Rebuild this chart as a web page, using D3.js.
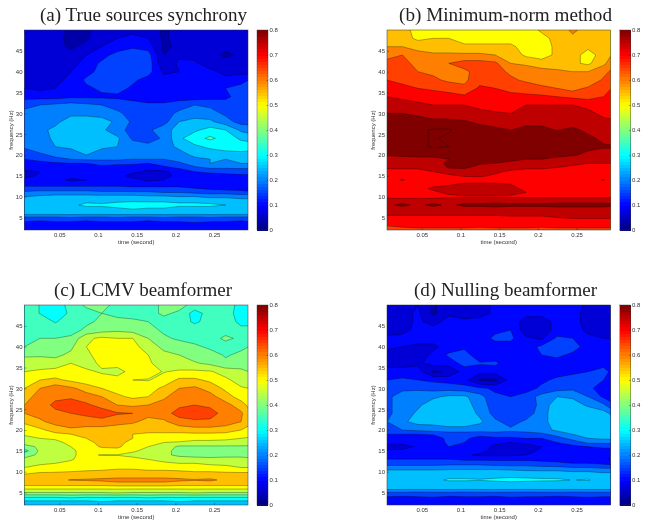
<!DOCTYPE html>
<html><head><meta charset="utf-8">
<script src="https://cdn.jsdelivr.net/npm/d3@7"></script>
<style>html,body{margin:0;padding:0;background:#fff}svg{display:block;filter:blur(0.35px)}</style>
</head><body><svg id="c" width="649" height="529"></svg>
<script>
const times=[.005,.025,.045,.065,.085,.105,.125,.145,.165,.185,.205,.225,.245,.265,.285,.295];
const frequencies=[50,48,46,44,42,40,38,36,34,32,30,28,26,24,22,20,19,18,17,16,15,14,13,12,11,10,9,8,7,6,5,4,3,2];
const timeTicks=[.05,.1,.15,.2,.25];
const freqTicks=[5,10,15,20,25,30,35,40,45];
const barTicks=[0,.1,.2,.3,.4,.5,.6,.7,.8];
const levels=[0,5,10,15,20,25,30,35,40,45,50,55,60,65,70,75,80,85];
const lowBandShade=[.04,.085,.13,.19,.25];
const titles=["(a) True sources synchrony","(b) Minimum-norm method","(c) LCMV beamformer","(d) Nulling beamformer"];
// synchrony values in hundredths, one row per frequency (top to bottom), one column per time
const trueSources=[
11,8,7,4,4,8,9,9,8,4,7,8,8,7,6,6,
8,7,6,4,4,9,10,11,10,4,7,7,7,7,6,6,
7,7,7,4,7,10,12,14,13,4,6,7,6,6,6,6,
7,7,7,7,10,13,17,19,17,5,9,9,7,4,6,6,
7,7,7,8,12,16,18,19,18,6,11,10.5,8,7,7,7,
7,7,7,10,13,17,18,18,17,9,10,12,11,9,8,8,
9,8,9,11,16,17,17,16,13,12,12,13,12,11,14,15,
10,9,10,12,14,16,17,14,12,11,12,13,13,15,16,17,
13,13,13,14,14,14,14,13,12,12,12,12,13,14,17,17,
19,20,21,22,21,20,18,17,16,16,18,20,19,17,16,16,
21,23,24,24,24,23,21,18,16,18,21,22,22,19,16,16,
22,23,24,27,27,27,24,19,17,18,25,27,26,22,18,18,
22,24,26,28,28,26,22,18,19,23,27,29,32,30,24,23,
20,23,26,28,28,27,26,19,17,21,29,33,36,33,29,28,
21,23,25,26,27,26,25,23,22,23,26,29,31,33,33,33,
16,19,21,22,25,22,22,21,20,21,23,26,27,27,28,27,
15,17,19,20,21,21,21,20,20,20,22,24,25,25,26,26,
12,13,14,15,15,16,16,16,15,17,19,23,25,24,25,25,
12,12,12,13,14,14,13,12,12,14,16,19,21,21,21,21,
9,10,12,12,13,13,12,11,9,9,12,15,16,16,17,17,
8,11,12,12,13,13,12,8,7,8,12,13,13,14,14,14,
12,12,12,9,10,12,12,12,9,10,12,12,12,12,12,12,
13,13,13,13,13,13,13,13,13,13,13,13,12.5,12.5,12.5,12,
17,17,17,17,17,17,17,16,16,16,16,15,14,13,13,9,
21,22,22,22,22,21,21,21,21,20,20,19,18,18,17,17,
25,26,27,27,27,27,27,27,26,26,25,25,24,24,23,23,
28,28,28,29,29,29,29,29,29,29,29,29,28,28,27,27,
28,28,29,29,31,30.5,32,34,33,33,31,31,31,30,28,28,
28,28,28,28,28,29,29,30,29,29,28,28,28,28,28,28,
27,27,27,27,27,27,27,27,27,27,27,27,27,27,27,27,
19,19,19,20,19,19,20,19,19,20,19,19,20,19,19,19,
15,14,15,15,14,15,15,15,14,15,15,16,15,15,14,15,
12,11,12,12,11,12,12,11,12,12,12,11,12,12,11,12,
12,12,12,12,12,12,12,12,12,12,12,12,12,12,12,12];
const minimumNorm=[
57,56,54,53,53,53,53,53,53,52,56,57,61,58,57,57,
58,57,54,55,55,53,53,53,53,51,53,57,59,59,58,58,
60,60,58,57,57,56,56,56,56,53,53,56,57,56,58,58,
64,65,62,61,61,61,61,60,58,54,53,56,57,53,57,60,
66,66,64,63,65,67,67,66,60,59,57,57,56,54,59,62,
67,67,65,64,63,64,67,67,64,63,62,61,60,60,63,66,
70,69,67,66,64,64,68,68,66,64,63,63,62,60,66,68,
72,71,70,69,68,66,71,70,69,68,66,65,63,66,69,70,
75,74,73,73,72,71,72,72,71,71,71,70,69,68,70,71,
78,77,76,75,75,75,74,73,73,75,75,75,75,74,73,73,
80,80,79,78,78,77,76,75.5,75,77,77,77,77,76,74,73,
82,82,82,81,81,80.5,79,78,78,79,79,79,78,78,76,76,
83,83,84,85.5,85.5,83,82,81,80,81,81,79.8,81,79,78,77,
83,83,84,85.5,84,83,82,81,81,82,82,82,82,81,79,78,
83,83,84,85.5,85,83,82,81,81,82,82,82,82,81,80.5,80.5,
80.5,81,81,81,81,82,83,82,81,81.5,81,81,80.5,79,78,78,
78,78,79,79,80,81,82,82,81,80,80,79,78,77,77,76,
78,77,78,78,81,82,80.5,80,79,78,78,77,76,75,75,75,
75.5,76,76,76,80.5,81,78,77,77,76,76,75,74,74,74,74,
74,73,73,75,77,77,77,76,74,73,73,73,72,72,72,72,
72,73,72,73,74,75.5,76,74,72,72,72,72,72,72,72,72,
72,75.5,72,72,72,72,72,72,72,72,72,72,72,72,75.5,72,
71,71,72,73,74,76,76,76,75,73,72,72,72,72,72,72,
71,71,73,76,77,77,77,77,76,74,72,72,72,71,71,71,
71,71,72,74,76,77,77,77,76,75,73,72,72,72,71,71,
73,73,73,73,74,74.5,74.5,74.5,74.5,74,74,74,74,74,74,74,
78,78,78,78,78,78,78,78,78,78,78,78,78,78,78,78,
79,81,79,81,79,81,81,82,81,81,81,82,82,82,82,81,
78,78,78,78,78,78,78,78,78,78,78,78,78,78,78,78,
77,77,77,77,77,77,77,77,77,77,77,77,78,78,78,78,
73,73,73,73,73,73,73,73,74,74,74,75,76,76,76,76,
71,71,72,72,72,72,72,72,72,72,72,72,72,72,72,72,
70,71,71,71,71,71,71,71,71,71,71,71,71,71,71,71,
67,68,69,69,69,69,68,69,69,69,68,69,69,69,69,69];
const lcmv=[
38,34.8,32,37,41,42,38,38,38,41,42,38,38,38,33,33,
38,34.8,32,36,38,40,38,38,38,41,39,33,37,37,33,33,
38,38,34.5,38,39,41,42,41,40,38,38,34,37,37,34,34,
38,38,38,38,41,43,44,43,42,39,37,38,38,38,36,36,
39,40,40,41,49,51,50,50,45,41,39,38,38,41,39,39,
40,41,42,44,50,53,50,52,47,44,43,41,39,38,39,40,
44,44.5,44,46,49,52,52,52,50,46,45,43,42,39.5,41,42,
48,47,47,50,49,50.5,51,52,51,47,46,45.5,44,41,43,44,
50,51,52,52,50.5,49.7,49,51,52,49.7,51,51,50.5,48,46,45,
53,55,56,54,52,51,51,50,49.7,52,56,56,54,51,48,47,
55,60,63,61,58,55,53,53,53,56,60,61,58,54,50.5,50,
58,62,64,64,62,60,56,54,55,59,63,64,62,57,53,51,
60,63,66,68,66,63,60,59,60,62,64,65,64,62,57,54,
60,62,64,65,66,68,65.5,65,62,63,67,68,67,63,61,56,
56,59,62,63,63,63,62,61,58,59,63,64,64,63,60,56,
52,54,57,59,58,58,57,56,56,56,57,58,58,57,55,54,
50.5,53,54,55,56,56,56,55,54.5,54.5,54,54,54,54,54,53,
49,50,50.5,53,55,56,56,55,53,52,51.5,50.5,50.5,50.3,50,49,
47,47,49,51,54,56,57,53,51,50,49.7,49.5,49.5,49.5,49,48,
43,46,48,50,53,55.5,56,52,50,48,44,44,44,44,44,44,
38,46,47,49,52,53,53,50.5,49,47,43,44,43,43,43,43,
43,46,47,49.5,51,49.7,49.8,49,48,46,44,43,42,43,43,43,
46,47,48,49.5,52,52,52,51,49.9,48,47,47,47,47,47,46,
48,49.5,50,51,52,53,53,53,52,51,50,50,49,49,49,49,
50,51,52,53,53,53,54,54,53,53,53,52,52,51,50,50,
53.5,54.5,54.5,55,55.5,56,56.5,56.5,56,56,55.5,55,55,54.5,54.5,54.5,
56,57,58,58,58,58,58,58,58,58,58,58,58,58,57,57,
58,58,59,60.2,60.5,61,62,62,62,62,61,60.3,60.8,59,58,58,
57,57,57,57,57,57,58,58,58,58,57,57,57,57,57,57,
51,51,51,51,51,51,51,51,51,51,51,51,51,51,51,51,
45,45,45,45,45,45,46,45,45,45,45,46,45,45,45,45,
36,36,36,37,36,36,36,36,37,36,36,36,36,36,36,36,
30,30,30,30,30,31,30,30,30,30,31,30,30,30,30,30,
26,26,26,26,26,26,26,26,26,26,26,26,26,26,26,26];
const nulling=[
8,8,10,4,9,8,8,11,12,12,12,12,12,9,8,8,
8,8,11,4,9,8,8,11,13,12,12,12,12,8,8,8,
8,8,11,8,12,11,12,14,14,7,7,12,12,8,8,8,
8,9,11,12,12,12,13,14,15,7,7,12,12,9,8,8,
11,11,12,12,13,12,13,16,16,11,9,16,15,11,10,10,
11,10,9,9,12,14,13,13,13,13,16,18,17,13,12,11,
8,8,8,11,16,17,12,12,12,13,15,16,14,13,13,13,
8,8,9,12,12,17,15.5,16,12,13,13,13,13,13,13,13,
12,12,12,4,6,12,12,12,13,13,13,13,14,15,17,14,
15,16,15,14,13,12,4,4,12,13,14,16,17,16,15,13,
17,19,19,18,18,17,16,14,12,13,16,18,19,16,13,13,
19,22,23,24,26,26,22,16,15,17,22,25,24,20,14,13,
19,22,24,28,28,28,22,18,17,16,22,28,28,24,21,16,
19,22,26,28,29,28,24,18,16,17,23,28,29,29,27,24,
20,24,27,27,28,28,26,21,18,21,23,28,29,29,29,28,
19.8,20,21,22,23,23,22,22,21,22,23,26,28,28,28,28,
15,15,15,15.5,17,17,17,18,18,18,19,22,25,27,27,27,
12,12,13,13,16,16,13,14,14,15,15,18,22,25,26,26,
11,11,11,12,16,15,12,11,10,11,13,15,17,21,21,21,
8,8,11,12,15,12,12,9,8,8,10,12,14,15,16,16,
11,11,12,12,12,12,12,8,8,8,11,12,13,13,13,13,
13,13,13,13,12,11,9,9,9,10,12,12,12,12,11,10,
15,15,15,15,15,14,14,14,14,14,13,13,13,12,12,9,
18,18,18,18,18,18,18,17,17,17,17,16,15,15,14,13,
22,22,22,22,23,23,23,23,22,22,21,21,20,20,19,19,
27,27,27,27,27,27,27,27,27,26,26,26,25,25,24,24,
29,29,29,29,29,29,29,29,29,29,29,29,29,29,28,28,
29,29,29,29,30.5,30.5,30.2,30.8,31.5,31,30.6,30.5,29.9,30.3,28,28,
28,28,28,28,28,28,28,28,28,28,28,28,28,28,28,28,
27,27,27,27,27,27,27,27,27,27,27,27,27,27,27,27,
19.5,19.5,19,19.5,19.5,19,19.5,19.5,19.5,19,19.5,19.5,19,19.5,19.5,19.5,
15,14.5,15,15.5,14.5,15,15,14.5,15.5,15,15,14.5,15,15.5,15,15,
11,11,12,11,11,12,11,11,11,12,11,11,11,12,11,11,
11,11,11,11,11,11,11,11,11,11,11,11,11,11,11,11];
const panels=[trueSources,minimumNorm,lcmv,nulling];

function jet(t){const c=v=>Math.round(255*Math.max(0,Math.min(1,v)));
  return `rgb(${c(1.5-Math.abs(4*t-3))},${c(1.5-Math.abs(4*t-2))},${c(1.5-Math.abs(4*t-1))})`;}
function bandColor(lo){return jet(lo<25?lowBandShade[lo/5]:Math.min(1,lo/80));}

const svg=d3.select("#c");
const frames=[{x:24.5,y:30,tx:40,tw:207,ty:21},{x:387,y:30,tx:399,tw:213,ty:21},
              {x:24.5,y:305,tx:54,tw:178,ty:296},{x:387,y:305,tx:414,tw:183,ty:296}];
const W=223.5,H=200,BARX=232.5,BARW=11;
const tickFont="Liberation Sans, Arial, sans-serif";

frames.forEach((f,p)=>{
  const g=svg.append("g").attr("transform",`translate(${f.x},${f.y})`);
  const xS=d3.scaleLinear().domain([.005,.294]).range([0,W]);
  const yS=d3.scaleLinear().domain([2,50]).range([H,0]);
  const colT=d3.scaleLinear().domain(d3.range(times.length)).range(times);
  const rowF=d3.scaleLinear().domain(d3.range(frequencies.length)).range(frequencies);
  const proj=d3.geoTransform({point(x,y){this.stream.point(xS(colT(x-.5)),yS(rowF(y-.5)));}});
  const path=d3.geoPath(proj);
  const clipId="clip"+p;
  g.append("clipPath").attr("id",clipId).append("rect").attr("width",W).attr("height",H);
  const plot=g.append("g").attr("clip-path",`url(#${clipId})`);
  const contours=d3.contours().size([times.length,frequencies.length]).thresholds(levels)(panels[p]);
  plot.selectAll("path").data(contours).join("path")
    .attr("d",path)
    .attr("fill",d=>bandColor(d.value))
    .attr("stroke",d=>d.value===0?"none":"#000")
    .attr("stroke-opacity",.55)
    .attr("stroke-width",.55);
  g.append("rect").attr("width",W).attr("height",H).attr("fill","none").attr("stroke","#333").attr("stroke-width",.5);

  const xAxis=d3.axisBottom(xS).tickValues(timeTicks).tickSize(-2).tickPadding(3).tickFormat(d=>String(+d.toFixed(2)));
  const yAxis=d3.axisLeft(yS).tickValues(freqTicks).tickSize(-2).tickPadding(2);
  [g.append("g").attr("transform",`translate(0,${H})`).call(xAxis),g.append("g").call(yAxis)].forEach(a=>{
    a.select(".domain").remove();
    a.selectAll("line").attr("stroke","#222").attr("stroke-width",.4);
    a.selectAll("text").attr("font-family",tickFont).attr("font-size",6).attr("fill","#333");
  });
  g.append("text").attr("x",W/2).attr("y",H+14).attr("text-anchor","middle")
    .attr("font-family",tickFont).attr("font-size",6).attr("fill","#333").text("time (second)");
  g.append("text").attr("transform",`translate(-11.8,${H/2}) rotate(-90)`).attr("text-anchor","middle")
    .attr("font-family",tickFont).attr("font-size",6).attr("fill","#333").text("frequency (Hz)");

  const bS=d3.scaleLinear().domain([0,.8]).range([H,0]);
  const bar=g.append("g").attr("transform",`translate(${BARX},0)`);
  bar.selectAll("rect").data(d3.range(64)).join("rect")
    .attr("y",d=>bS((d+1)/64*.8)).attr("width",BARW).attr("height",H/64+.5)
    .attr("shape-rendering","crispEdges")
    .attr("fill",d=>jet((d+.5)/64));
  bar.append("rect").attr("width",BARW).attr("height",H).attr("fill","none").attr("stroke","#333").attr("stroke-width",.4);
  const bAxis=d3.axisRight(bS).tickValues(barTicks).tickSize(-1.5).tickPadding(1.5).tickFormat(d=>String(+d.toFixed(1)));
  const ba=bar.append("g").attr("transform",`translate(${BARW},0)`).call(bAxis);
  ba.select(".domain").remove();
  ba.selectAll("line").attr("stroke","#222").attr("stroke-width",.4);
  ba.selectAll("text").attr("font-family",tickFont).attr("font-size",6).attr("fill","#333");

  svg.append("text").attr("x",f.tx).attr("y",f.ty)
    .attr("font-family","Liberation Serif, serif").attr("font-size",18).attr("fill","#222")
    .attr("textLength",f.tw).attr("lengthAdjust","spacingAndGlyphs").text(titles[p]);
});
</script>
</body></html>
